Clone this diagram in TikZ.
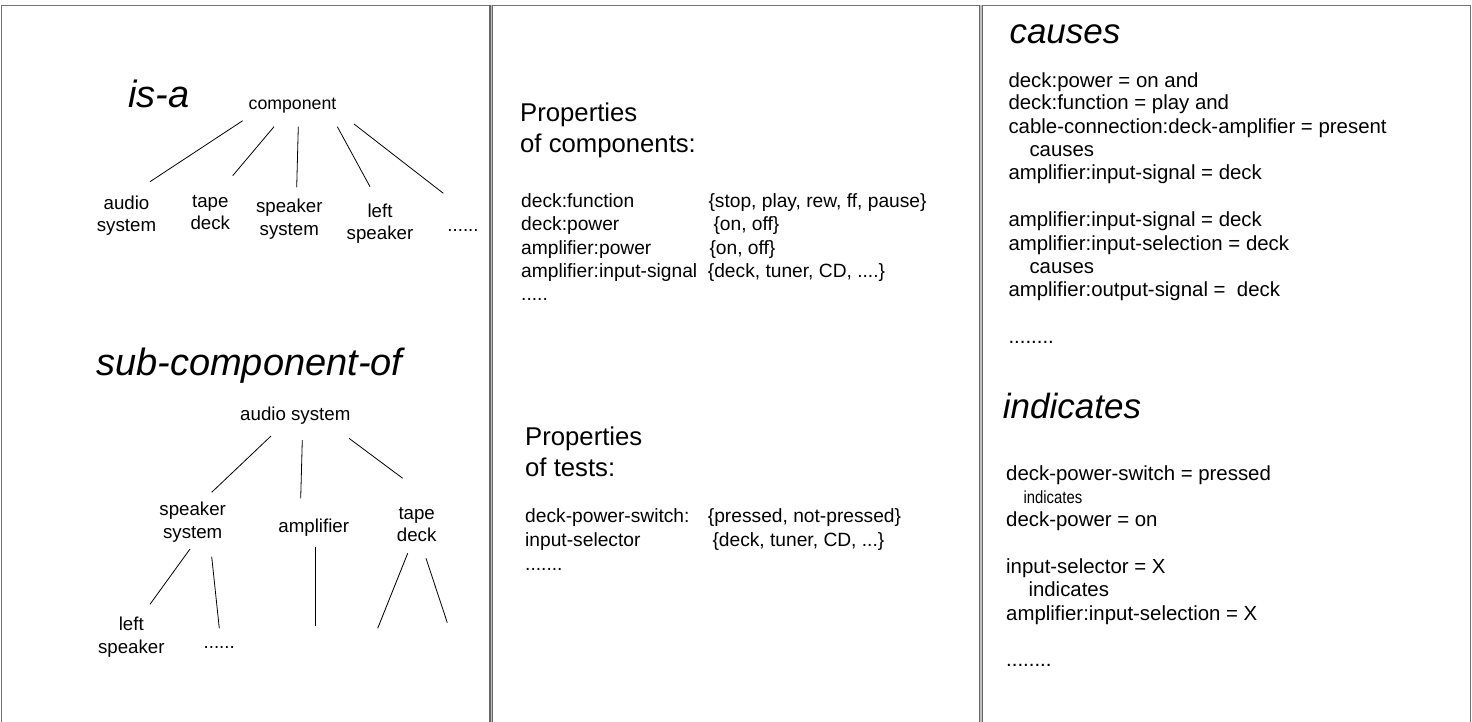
\documentclass[tikz,border=0pt]{standalone}
\usepackage{fontspec}
\setmainfont{Liberation Sans}
\begin{document}
\begin{tikzpicture}[x=1pt,y=-1pt,
  edge/.style={draw=black!55, line width=1.4pt},
  divline/.style={draw=black!60, line width=4.2pt},
  divgap/.style={draw=black!25, line width=1.4pt},
  link/.style={draw=black, line width=0.8pt},
  head/.style={inner sep=0pt, anchor=base west, font=\fontsize{38}{40}\selectfont\itshape},
  rhead/.style={inner sep=0pt, anchor=base west, font=\fontsize{35}{38}\selectfont\itshape},
  ptitle/.style={inner sep=0pt, anchor=base west, align=left, font=\fontsize{25.7}{31}\selectfont},
  tree/.style={inner sep=0pt, anchor=base, align=center, font=\fontsize{18.7}{22.5}\selectfont},
  txt/.style={inner sep=0pt, anchor=base west, font=\fontsize{19.2}{23.3}\selectfont},
  rtxt/.style={inner sep=0pt, anchor=base west, font=\fontsize{20.4}{23.3}\selectfont},
]
\useasboundingbox (0,0) rectangle (1472,722);

% frame and panel dividers
\draw[edge] (1,5.5) -- (1471,5.5);
\draw[edge] (1.5,5) -- (1.5,722);
\draw[edge] (1470.6,5) -- (1470.6,722);
\foreach \xd in {491.2,980.8}{
  \draw[divline] (\xd,5) -- (\xd,722);
  \draw[divgap] (\xd,5) -- (\xd,722);
}

% ---------- is-a hierarchy (two-line labels sit on their last baseline) ----------
\node[head] (isa) at (128,108) {is-a};
\node[inner sep=0pt, anchor=base, font=\fontsize{17.7}{20}\selectfont] (comp) at (292.5,110) {component};
\node[tree] (ia1) at (126.5,232) {audio\\system};
\node[tree] (ia2) at (210.3,229.5) {tape\\deck};
\node[tree] (ia3) at (289.3,235) {speaker\\system};
\node[tree] (ia4) at (380,240) {left\\speaker};
\node[tree] (ia5) at (463,232) {......};

\coordinate (c1a) at (242.7,120.7); \coordinate (c1b) at (150,181.7);
\coordinate (c2a) at (274,126.7);   \coordinate (c2b) at (232.7,175.7);
\coordinate (c3a) at (298.3,126.7); \coordinate (c3b) at (296.7,187.3);
\coordinate (c4a) at (337.3,126.7); \coordinate (c4b) at (370,186.7);
\coordinate (c5a) at (354,124);     \coordinate (c5b) at (443.3,193.3);
\draw[link] (c1a) -- (c1b);
\draw[link] (c2a) -- (c2b);
\draw[link] (c3a) -- (c3b);
\draw[link] (c4a) -- (c4b);
\draw[link] (c5a) -- (c5b);

% ---------- sub-component-of hierarchy ----------
\node[head] (subc) at (96,375) {sub-component-of};
\node[tree] (aud) at (295.3,420.7) {audio system};
\node[tree] (spk) at (192.7,538.3) {speaker\\system};
\node[tree] (amp) at (313.8,532.7) {amplifier};
\node[tree] (tap) at (416.7,541.7) {tape\\deck};
\node[tree] (lsp) at (131.3,653.3) {left\\speaker};
\node[tree] (sdots) at (219.2,648.3) {......};

\coordinate (s1a) at (271,436);     \coordinate (s1b) at (211.7,492.3);
\coordinate (s2a) at (302.3,440);   \coordinate (s2b) at (300.7,498.3);
\coordinate (s3a) at (349,438.3);   \coordinate (s3b) at (402.7,478.3);
\coordinate (s4a) at (190,549);     \coordinate (s4b) at (150,604.3);
\coordinate (s5a) at (211.7,556.7); \coordinate (s5b) at (219.3,628.3);
\coordinate (s6a) at (315.7,547.3); \coordinate (s6b) at (315.7,626);
\coordinate (s7a) at (407.7,553.3); \coordinate (s7b) at (377.7,628.3);
\coordinate (s8a) at (426,558.3);   \coordinate (s8b) at (447.3,622.7);
\draw[link] (s1a) -- (s1b);
\draw[link] (s2a) -- (s2b);
\draw[link] (s3a) -- (s3b);
\draw[link] (s4a) -- (s4b);
\draw[link] (s5a) -- (s5b);
\draw[link] (s6a) -- (s6b);
\draw[link] (s7a) -- (s7b);
\draw[link] (s8a) -- (s8b);

% ---------- properties of components ----------
\node[ptitle] (pc) at (520,152.7) {Properties\\of components:};
\node[txt] (pk1) at (521,207.3) {deck:function};
\node[txt] (pv1) at (708.3,207.3) {\{stop, play, rew, ff, pause\}};
\node[txt] (pk2) at (521,230.7) {deck:power};
\node[txt] (pv2) at (713.3,230.7) {\{on, off\}};
\node[txt] (pk3) at (521,254) {amplifier:power};
\node[txt] (pv3) at (709.3,254) {\{on, off\}};
\node[txt] (pk4) at (521,277.3) {amplifier:input-signal};
\node[txt] (pv4) at (707.7,277.3) {\{deck, tuner, CD, ....\}};
\node[txt] (pk5) at (521,300.3) {.....};

% ---------- properties of tests ----------
\node[ptitle] (pt) at (525,476.7) {Properties\\of tests:};
\node[txt] (tk1) at (525,522.7) {deck-power-switch:};
\node[txt] (tv1) at (707.7,522.7) {\{pressed, not-pressed\}};
\node[txt] (tk2) at (525,546.7) {input-selector};
\node[txt] (tv2) at (712.3,546.7) {\{deck, tuner, CD, ...\}};
\node[txt] (tk3) at (525,570) {.......};

% ---------- causes ----------
\node[rhead] (cau) at (1009.3,43.3) {causes};
\node[rtxt] (r1) at (1008.3,87.3) {deck:power = on and};
\node[rtxt] (r2) at (1008.3,110) {deck:function = play and};
\node[rtxt] (r3) at (1008.3,133.3) {cable-connection:deck-amplifier = present};
\node[rtxt] (r4) at (1029.3,156.7) {causes};
\node[rtxt] (r5) at (1008.3,180) {amplifier:input-signal = deck};
\node[rtxt] (r6) at (1008.3,226.7) {amplifier:input-signal = deck};
\node[rtxt] (r7) at (1008.3,250) {amplifier:input-selection = deck};
\node[rtxt] (r8) at (1029.3,273.3) {causes};
\node[rtxt] (r9) at (1008.3,296.7) {amplifier:output-signal = \ deck};
\node[rtxt] (r10) at (1008.3,343.3) {........};

% ---------- indicates ----------
\node[rhead] (ind) at (1002.7,418.3) {indicates};
\node[rtxt] (i1) at (1006,480.7) {deck-power-switch = pressed};
\node[inner sep=0pt, anchor=base west, font=\fontsize{17.5}{20}\selectfont] (i2) at (1023.3,503.3) {\scalebox{0.85}[1]{indicates}};
\node[rtxt] (i3) at (1006,526.7) {deck-power = on};
\node[rtxt] (i4) at (1006,573.3) {input-selector = X};
\node[rtxt] (i5) at (1028.3,596.7) {indicates};
\node[rtxt] (i6) at (1006,620) {amplifier:input-selection = X};
\node[rtxt] (i7) at (1006,666.7) {........};
\end{tikzpicture}
\end{document}
